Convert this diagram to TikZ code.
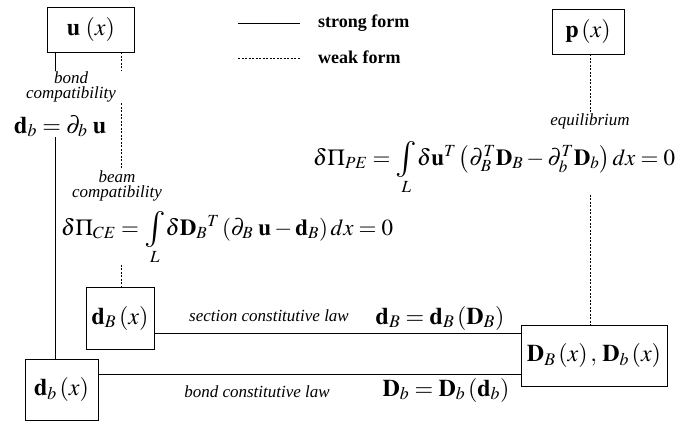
\documentclass[tikz,border=0pt]{standalone}
\usepackage{mathptmx}
\usepackage[no-math]{fontspec}
\setmainfont{Liberation Serif}
\newcommand{\myint}{\mathop{\vcenter{\hbox{\fontsize{36}{36}\selectfont$\int$}}}\limits_L\!}
\begin{document}
\begin{tikzpicture}[x=1pt,y=-1pt,
  box/.style={draw, line width=0.9pt, inner sep=0pt, font=\fontsize{24}{28}\selectfont},
  strong/.style={line width=0.8pt},
  weak/.style={line width=0.8pt, dash pattern=on 2pt off 1.5pt},
  lab/.style={font=\fontsize{17}{15}\selectfont\itshape, align=center, inner sep=1pt},
  leg/.style={font=\fontsize{18}{18}\selectfont\bfseries, inner sep=0pt},
  eq/.style={font=\fontsize{23}{27}\selectfont, inner sep=0pt}]
\useasboundingbox (0,0) rectangle (687,424);
\fill[white] (0,0) rectangle (687,424);
% boxes
\node[box, minimum width=87pt, minimum height=45pt] (u) at (91,29.5) {$\mathbf{u}\,\left(x\right)$};
\node[box, minimum width=72pt, minimum height=45pt] (p) at (588,31.5) {$\mathbf{p}\left(x\right)$};
\node[box, minimum width=68pt, minimum height=62pt] (dB) at (120,318) {$\mathbf{d}_B\left(x\right)$};
\node[box, minimum width=73pt, minimum height=61pt] (db) at (61.5,389.5) {$\mathbf{d}_b\left(x\right)$};
\node[box, minimum width=146pt, minimum height=61pt] (D) at (594,355.5) {$\mathbf{D}_B\left(x\right),\,\mathbf{D}_b\left(x\right)$};
% legend
\node[leg, anchor=west] (sf) at (318,23) {strong form};
\node[leg, anchor=west] (wf) at (318,57) {weak form};
\coordinate (ls) at (238,23);
\coordinate (lw) at (238,58);
\draw[strong] (ls) -- ([xshift=-18pt]sf.west);
\draw[weak] (lw) -- ([xshift=-18pt]wf.west |- lw);
% labels and equations
\node[lab] (bc) at (71,87) {bond\\compatibility};
\node[eq, font=\fontsize{24}{28}\selectfont, anchor=base west] (bq) at (14,133) {$\mathbf{d}_b = \partial_b\;\mathbf{u}$};
\node[lab] (mc) at (117,186) {beam\\compatibility};
\node[eq, anchor=base west] (ce) at (61,235) {$\delta\Pi_{CE} = \myint \delta\mathbf{D}_B{}^T\left(\partial_B\;\mathbf{u}-\mathbf{d}_B\right)dx = 0$};
\node[lab] (eqm) at (590,121) {equilibrium};
\node[eq, anchor=base west] (pe) at (313,165) {$\delta\Pi_{PE} = \myint \delta\mathbf{u}^T\left(\partial_B^T\mathbf{D}_B-\partial_b^T\mathbf{D}_b\right)dx = 0$};
\node[lab] (scl) at (269,316) {section constitutive law};
\node[eq, font=\fontsize{24}{28}\selectfont] (sce) at (440,318) {$\mathbf{d}_B = \mathbf{d}_B\left(\mathbf{D}_B\right)$};
\node[lab] (bcl) at (257,392) {bond constitutive law};
\node[eq, font=\fontsize{24}{28}\selectfont] (bce) at (446,390) {$\mathbf{D}_b = \mathbf{D}_b\left(\mathbf{d}_b\right)$};
% connector guides
\coordinate (sx) at (55,0);
\coordinate (wx) at (121,0);
\coordinate (px) at (590,0);
\coordinate (hy1) at (0,333);
\coordinate (hy2) at (0,374);
% strong connectors
\draw[strong] (u.south -| sx) -- (bc.north -| sx);
\draw[strong] (bq.south -| sx) -- (db.north -| sx);
\draw[strong] (dB.east |- hy1) -- (D.west |- hy1);
\draw[strong] (db.east |- hy2) -- (D.west |- hy2);
% weak connectors
\draw[weak] (u.south -| wx) -- (bc.north -| wx);
\draw[weak] (bc.south -| wx) -- (mc.north -| wx);
\draw[weak] (ce.south -| wx) -- (dB.north -| wx);
\draw[weak] (p.south -| px) -- (eqm.north -| px);
\draw[weak] (pe.south -| px) -- (D.north -| px);
\end{tikzpicture}
\end{document}
